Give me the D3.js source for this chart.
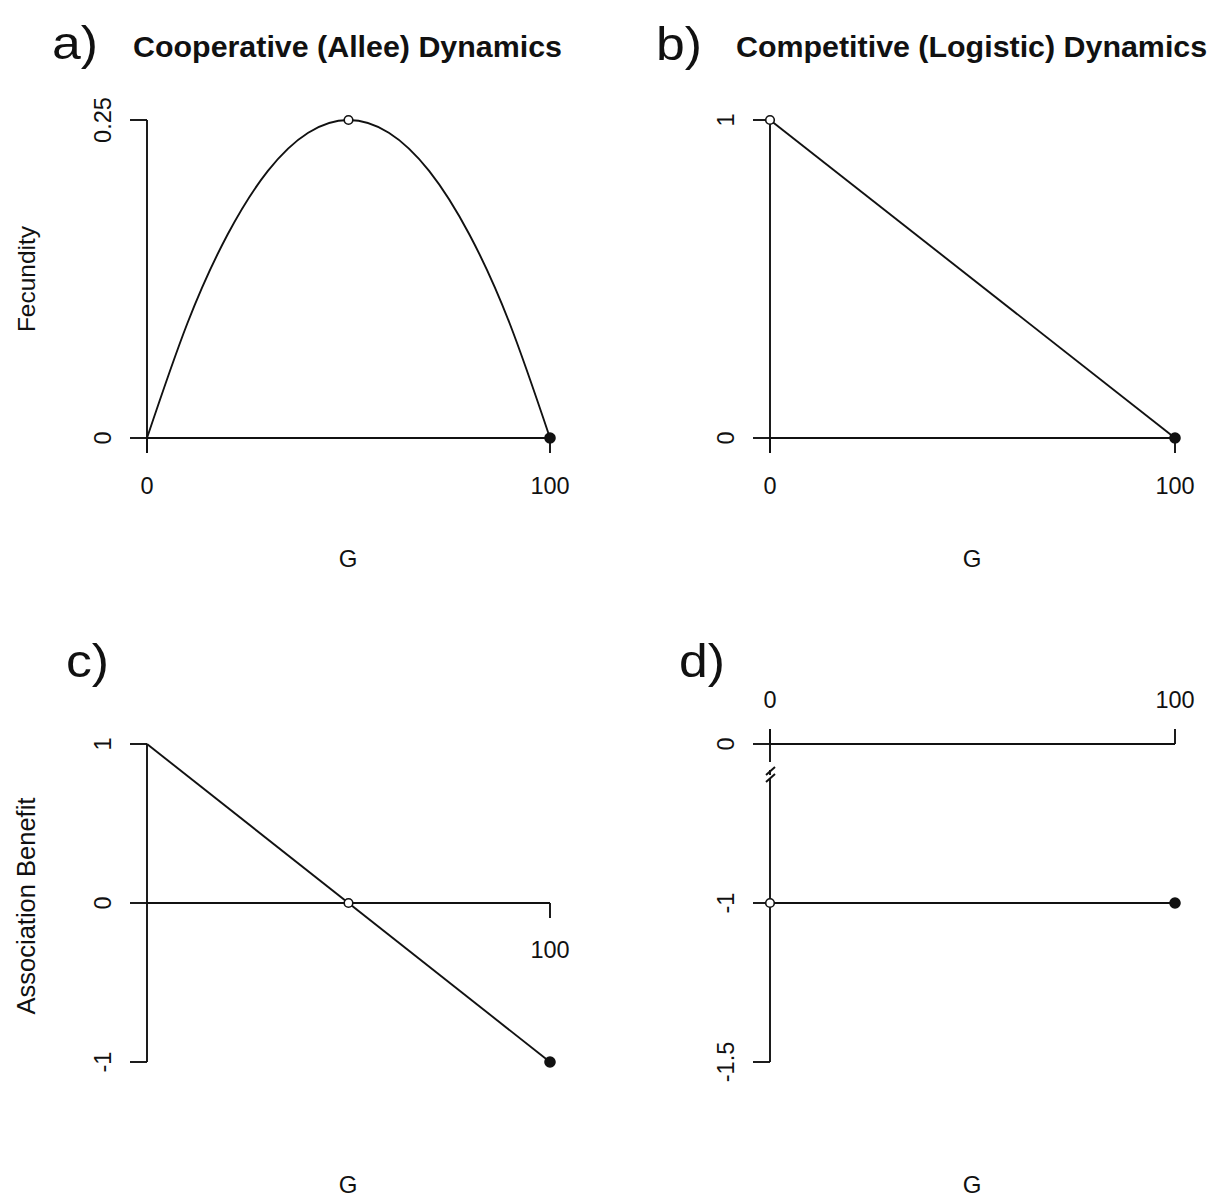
<!DOCTYPE html>
<html>
<head>
<meta charset="utf-8">
<script src="https://cdn.jsdelivr.net/npm/d3@7"></script>
<style>
  html, body { margin: 0; padding: 0; background: #fff; }
  svg { display: block; font-family: "Liberation Sans", Arial, sans-serif; }
</style>
</head>
<body>
<svg id="fig" width="1214" height="1197"></svg>
<script>
// G (group size) sample points and the fecundity
const alleeG = [0, 10, 20, 30, 40, 50, 60, 70, 80, 90, 100];
const alleeFecundity = [0, 0.09, 0.16, 0.21, 0.24, 0.25, 0.24, 0.21, 0.16, 0.09, 0];

// Logistic fecundity: straight decline from 1 to 0
const logisticG = [0, 100];
const logisticFecundity = [1, 0];

// Association benefit, cooperative case
const coopBenefitG = [0, 100];
const coopBenefit = [1, -1];

// Association benefit, competitive case
const compBenefitG = [0, 100];
const compBenefit = [-1, -1];

// Marked points: open = unstable, filled = stable
const openPts = {
  a: [[50, 0.25]],
  b: [[0, 1]],
  c: [[50, 0]],
  d: [[0, -1]]
};
const filledPts = {
  a: [[100, 0]],
  b: [[100, 0]],
  c: [[100, -1]],
  d: [[100, -1]]
};

// Tick labels
const ticksA = { x: [0, 100], y: [0, 0.25], yLabels: ["0", "0.25"] };
const ticksB = { x: [0, 100], y: [0, 1], yLabels: ["0", "1"] };
const ticksC = { x: [100], y: [-1, 0, 1], yLabels: ["-1", "0", "1"] };
const ticksD = { x: [0, 100], y: [0, -1, -1.5], yLabels: ["0", "-1", "-1.5"] };

const panelLetters = ["a)", "b)", "c)", "d)"];
const panelTitles = ["Cooperative (Allee) Dynamics", "Competitive (Logistic) Dynamics", "", ""];
const xTitle = "G";
const yTitles = ["Fecundity", "", "Association Benefit", ""];

const svg = d3.select("#fig");
const ink = "#111";
const lw = 1.9;
const tickLen = 17;

// Plot regions
const colX = [[147, 550], [770, 1175]];
const rowY = [[438, 120], [1062, 744]];

const xA = d3.scaleLinear().domain([0, 100]).range(colX[0]);
const xB = d3.scaleLinear().domain([0, 100]).range(colX[1]);
const yA = d3.scaleLinear().domain([0, 0.25]).range(rowY[0]);
const yB = d3.scaleLinear().domain([0, 1]).range(rowY[0]);
const yC = d3.scaleLinear().domain([-1, 1]).range(rowY[1]);
// broken axis: 0 to -1 and -1 to -1.5 take equal lengths
const yD = d3.scaleLinear().domain([0, -1, -1.5]).range([744, 903, 1062]);

function seg(g, x1, y1, x2, y2) {
  g.append("line").attr("x1", x1).attr("y1", y1).attr("x2", x2).attr("y2", y2)
    .attr("stroke", ink).attr("stroke-width", lw).attr("stroke-linecap", "butt");
}

function yTickLabels(g, x, ys, labels, yScale) {
  ys.forEach((v, i) => {
    const px = x - 44, py = yScale(v);
    g.append("text")
      .attr("transform", `translate(${px},${py}) rotate(-90)`)
      .attr("text-anchor", "middle").attr("dy", "0.36em")
      .attr("font-size", 23.5).attr("fill", ink).text(labels[i]);
  });
}

function points(g, xs, ys, list, filled) {
  g.selectAll(null).data(list).join("circle")
    .attr("cx", d => xs(d[0])).attr("cy", d => ys(d[1]))
    .attr("r", filled ? 5 : 4.3)
    .attr("fill", filled ? ink : "#fff")
    .attr("stroke", ink).attr("stroke-width", 1.6);
}

function letter(x, y, s) {
  svg.append("text").attr("transform", `translate(${x},${y}) scale(1.1,1)`)
    .attr("font-size", 47).attr("fill", ink).text(s);
}
function title(x, y, s) {
  svg.append("text").attr("x", x).attr("y", y).attr("font-size", 30.4)
    .attr("font-weight", "bold").attr("fill", ink).text(s);
}
function xLab(cx, y) {
  svg.append("text").attr("x", cx).attr("y", y).attr("font-size", 24)
    .attr("text-anchor", "middle").attr("fill", ink).text(xTitle);
}
function yLab(cy, s, size) {
  svg.append("text").attr("transform", `translate(35,${cy}) rotate(-90)`)
    .attr("font-size", size).attr("text-anchor", "middle").attr("fill", ink).text(s);
}

const line = d3.line();

// ---- Panel a ----
{
  const g = svg.append("g");
  const x = xA, y = yA;
  // y axis
  seg(g, x(0), y(0.25), x(0), y(0) + 15);
  ticksA.y.forEach(v => seg(g, x(0) - tickLen, y(v), x(0), y(v)));
  yTickLabels(g, x(0), ticksA.y, ticksA.yLabels, y);
  // x axis
  seg(g, x(0), y(0), x(100), y(0));
  ticksA.x.forEach(v => {
    seg(g, x(v), y(0), x(v), y(0) + 15);
    g.append("text").attr("x", x(v)).attr("y", 494).attr("text-anchor", "middle")
      .attr("font-size", 23.5).attr("fill", ink).text(v);
  });
  // curve
  g.append("path")
    .datum(alleeG.map((v, i) => [x(v), y(alleeFecundity[i])]))
    .attr("d", d3.line().curve(d3.curveNatural))
    .attr("fill", "none").attr("stroke", ink).attr("stroke-width", lw);
  points(g, x, y, openPts.a, false);
  points(g, x, y, filledPts.a, true);
}

// ---- Panel b ----
{
  const g = svg.append("g");
  const x = xB, y = yB;
  seg(g, x(0), y(1), x(0), y(0) + 15);
  ticksB.y.forEach(v => seg(g, x(0) - tickLen, y(v), x(0), y(v)));
  yTickLabels(g, x(0), ticksB.y, ticksB.yLabels, y);
  seg(g, x(0), y(0), x(100), y(0));
  ticksB.x.forEach(v => {
    seg(g, x(v), y(0), x(v), y(0) + 15);
    g.append("text").attr("x", x(v)).attr("y", 494).attr("text-anchor", "middle")
      .attr("font-size", 23.5).attr("fill", ink).text(v);
  });
  g.append("path")
    .datum(logisticG.map((v, i) => [x(v), y(logisticFecundity[i])]))
    .attr("d", line).attr("fill", "none").attr("stroke", ink).attr("stroke-width", lw);
  points(g, x, y, openPts.b, false);
  points(g, x, y, filledPts.b, true);
}

// ---- Panel c ----
{
  const g = svg.append("g");
  const x = xA, y = yC;
  seg(g, x(0), y(1), x(0), y(-1));
  ticksC.y.forEach(v => seg(g, x(0) - tickLen, y(v), x(0), y(v)));
  yTickLabels(g, x(0), ticksC.y, ticksC.yLabels, y);
  seg(g, x(0), y(0), x(100), y(0));
  ticksC.x.forEach(v => {
    seg(g, x(v), y(0), x(v), y(0) + 15);
    g.append("text").attr("x", x(v)).attr("y", 958).attr("text-anchor", "middle")
      .attr("font-size", 23.5).attr("fill", ink).text(v);
  });
  g.append("path")
    .datum(coopBenefitG.map((v, i) => [x(v), y(coopBenefit[i])]))
    .attr("d", line).attr("fill", "none").attr("stroke", ink).attr("stroke-width", lw);
  points(g, x, y, openPts.c, false);
  points(g, x, y, filledPts.c, true);
}

// ---- Panel d ----
{
  const g = svg.append("g");
  const x = xB, y = yD;
  const x0 = x(0);
  // y axis with a break just below 0
  seg(g, x0, y(0) - 15, x0, 762);
  seg(g, x0, 779, x0, y(-1.5));
  seg(g, x0 - 4, 775, x0 + 5, 767);
  seg(g, x0 - 4, 782, x0 + 5, 774);
  seg(g, x0, 770, x0, 775);
  ticksD.y.forEach(v => seg(g, x0 - tickLen, y(v), x0, y(v)));
  yTickLabels(g, x0, ticksD.y, ticksD.yLabels, y);
  // x axis on top at 0
  seg(g, x0, y(0), x(100), y(0));
  ticksD.x.forEach(v => {
    seg(g, x(v), y(0), x(v), y(0) - 15);
    g.append("text").attr("x", x(v)).attr("y", 708).attr("text-anchor", "middle")
      .attr("font-size", 23.5).attr("fill", ink).text(v);
  });
  g.append("path")
    .datum(compBenefitG.map((v, i) => [x(v), y(compBenefit[i])]))
    .attr("d", line).attr("fill", "none").attr("stroke", ink).attr("stroke-width", lw);
  points(g, x, y, openPts.d, false);
  points(g, x, y, filledPts.d, true);
}

// Letters, titles, axis titles
letter(52, 59, panelLetters[0]);
letter(656, 60, panelLetters[1]);
letter(66, 677, panelLetters[2]);
letter(679, 677, panelLetters[3]);
title(133, 57, panelTitles[0]);
title(736, 57, panelTitles[1]);
xLab(348, 567);
xLab(972, 567);
xLab(348, 1193);
xLab(972, 1193);
yLab(279, yTitles[0], 24.5);
yLab(906, yTitles[2], 25.5);
</script>
</body>
</html>
